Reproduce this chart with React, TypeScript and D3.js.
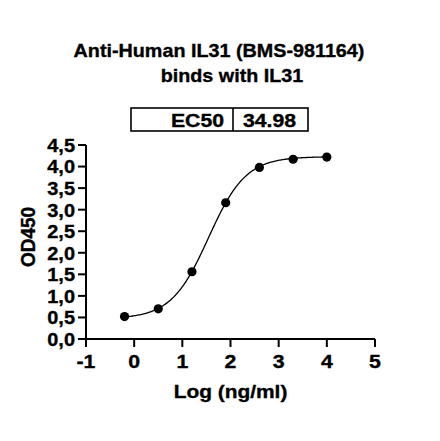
import React from "react";
import * as d3 from "d3";

const xValues = [-0.2, 0.5, 1.2, 1.9, 2.6, 3.3, 4.0];
const yValues = [0.52, 0.70, 1.56, 3.16, 3.98, 4.17, 4.22];
const xTicks = [-1, 0, 1, 2, 3, 4, 5];
const yTicks = [0, 0.5, 1, 1.5, 2, 2.5, 3, 3.5, 4, 4.5];
const yTickLabels = ["0,0", "0,5", "1,0", "1,5", "2,0", "2,5", "3,0", "3,5", "4,0", "4,5"];
const titleLines = ["Anti-Human IL31 (BMS-981164)", "binds with IL31"];
const ec50Label = "EC50";
const ec50Value = "34.98";
// 4PL fit parameters
const fitBottom = 0.47;
const fitTop = 4.23;
const fitLogEC50 = Math.log10(34.98);
const fitHill = 1.12;

const FONT = "'Liberation Sans', Arial, sans-serif";

function T(props: {
  x: number;
  y: number;
  s?: number;
  size?: number;
  anchor?: string;
  dy?: string;
  children: React.ReactNode;
}) {
  const { x, y, s = 1, size = 19, anchor = "middle", dy, children } = props;
  return (
    <text
      transform={`translate(${x},${y}) scale(${s},1)`}
      textAnchor={anchor}
      dy={dy}
      fontFamily={FONT}
      fontWeight="bold"
      fontSize={size}
      fill="#000"
      stroke="#000"
      strokeWidth={0.35}
    >
      {children}
    </text>
  );
}

export default function App() {
  const x = d3.scaleLinear().domain([-1, 5]).range([86, 375]);
  const y = d3.scaleLinear().domain([0, 4.5]).range([339, 145]);

  const fit = (v: number) =>
    fitBottom + (fitTop - fitBottom) / (1 + Math.pow(10, (fitLogEC50 - v) * fitHill));
  const curveXs = d3
    .range(0, 201)
    .map((i) => xValues[0] + (i / 200) * (xValues[xValues.length - 1] - xValues[0]));
  const line = d3
    .line<number>()
    .x((d) => x(d))
    .y((d) => y(fit(d)));

  return (
    <svg width={440} height={441} style={{ position: "absolute", left: 0, top: 0, background: "#fff" }}>
      <rect width={440} height={441} fill="#fff" />
      <T x={219} y={57} s={1.04}>{titleLines[0]}</T>
      <T x={232} y={82} s={1.04}>{titleLines[1]}</T>
      {/* EC50 table */}
      <rect x={131} y={108} width={177} height={23} fill="none" stroke="#000" strokeWidth={1.6} />
      <line x1={233} x2={233} y1={108} y2={131} stroke="#000" strokeWidth={1.6} />
      <T x={224} y={126.5} s={1.18} size={18} anchor="end">{ec50Label}</T>
      <T x={269.5} y={126.5} s={1.18} size={18}>{ec50Value}</T>
      {/* axes */}
      <line x1={x(-1)} x2={x(5)} y1={y(0)} y2={y(0)} stroke="#000" strokeWidth={2} />
      <line x1={x(-1)} x2={x(-1)} y1={y(0)} y2={y(4.5)} stroke="#000" strokeWidth={2} />
      {xTicks.map((t) => (
        <g key={"x" + t}>
          <line x1={x(t)} x2={x(t)} y1={y(0)} y2={y(0) + 8} stroke="#000" strokeWidth={2} />
          <T x={x(t)} y={368} s={1.12}>{t}</T>
        </g>
      ))}
      {yTicks.map((t, i) => (
        <g key={"y" + t}>
          <line x1={x(-1) - 8} x2={x(-1)} y1={y(t)} y2={y(t)} stroke="#000" strokeWidth={2} />
          <T x={75} y={y(t)} dy="0.36em" s={1.05} anchor="end">{yTickLabels[i]}</T>
        </g>
      ))}
      <T x={230.5} y={398} s={1.1}>Log (ng/ml)</T>
      <text
        transform="translate(34.5,237) rotate(-90) scale(1,1.05)"
        textAnchor="middle"
        fontFamily={FONT}
        fontWeight="bold"
        fontSize={19}
        stroke="#000"
        strokeWidth={0.35}
      >
        OD450
      </text>
      {/* fit curve */}
      <path d={line(curveXs) || ""} fill="none" stroke="#000" strokeWidth={1.3} />
      {xValues.map((v, i) => (
        <circle key={"p" + i} cx={x(v)} cy={y(yValues[i])} r={4.6} fill="#000" />
      ))}
    </svg>
  );
}
